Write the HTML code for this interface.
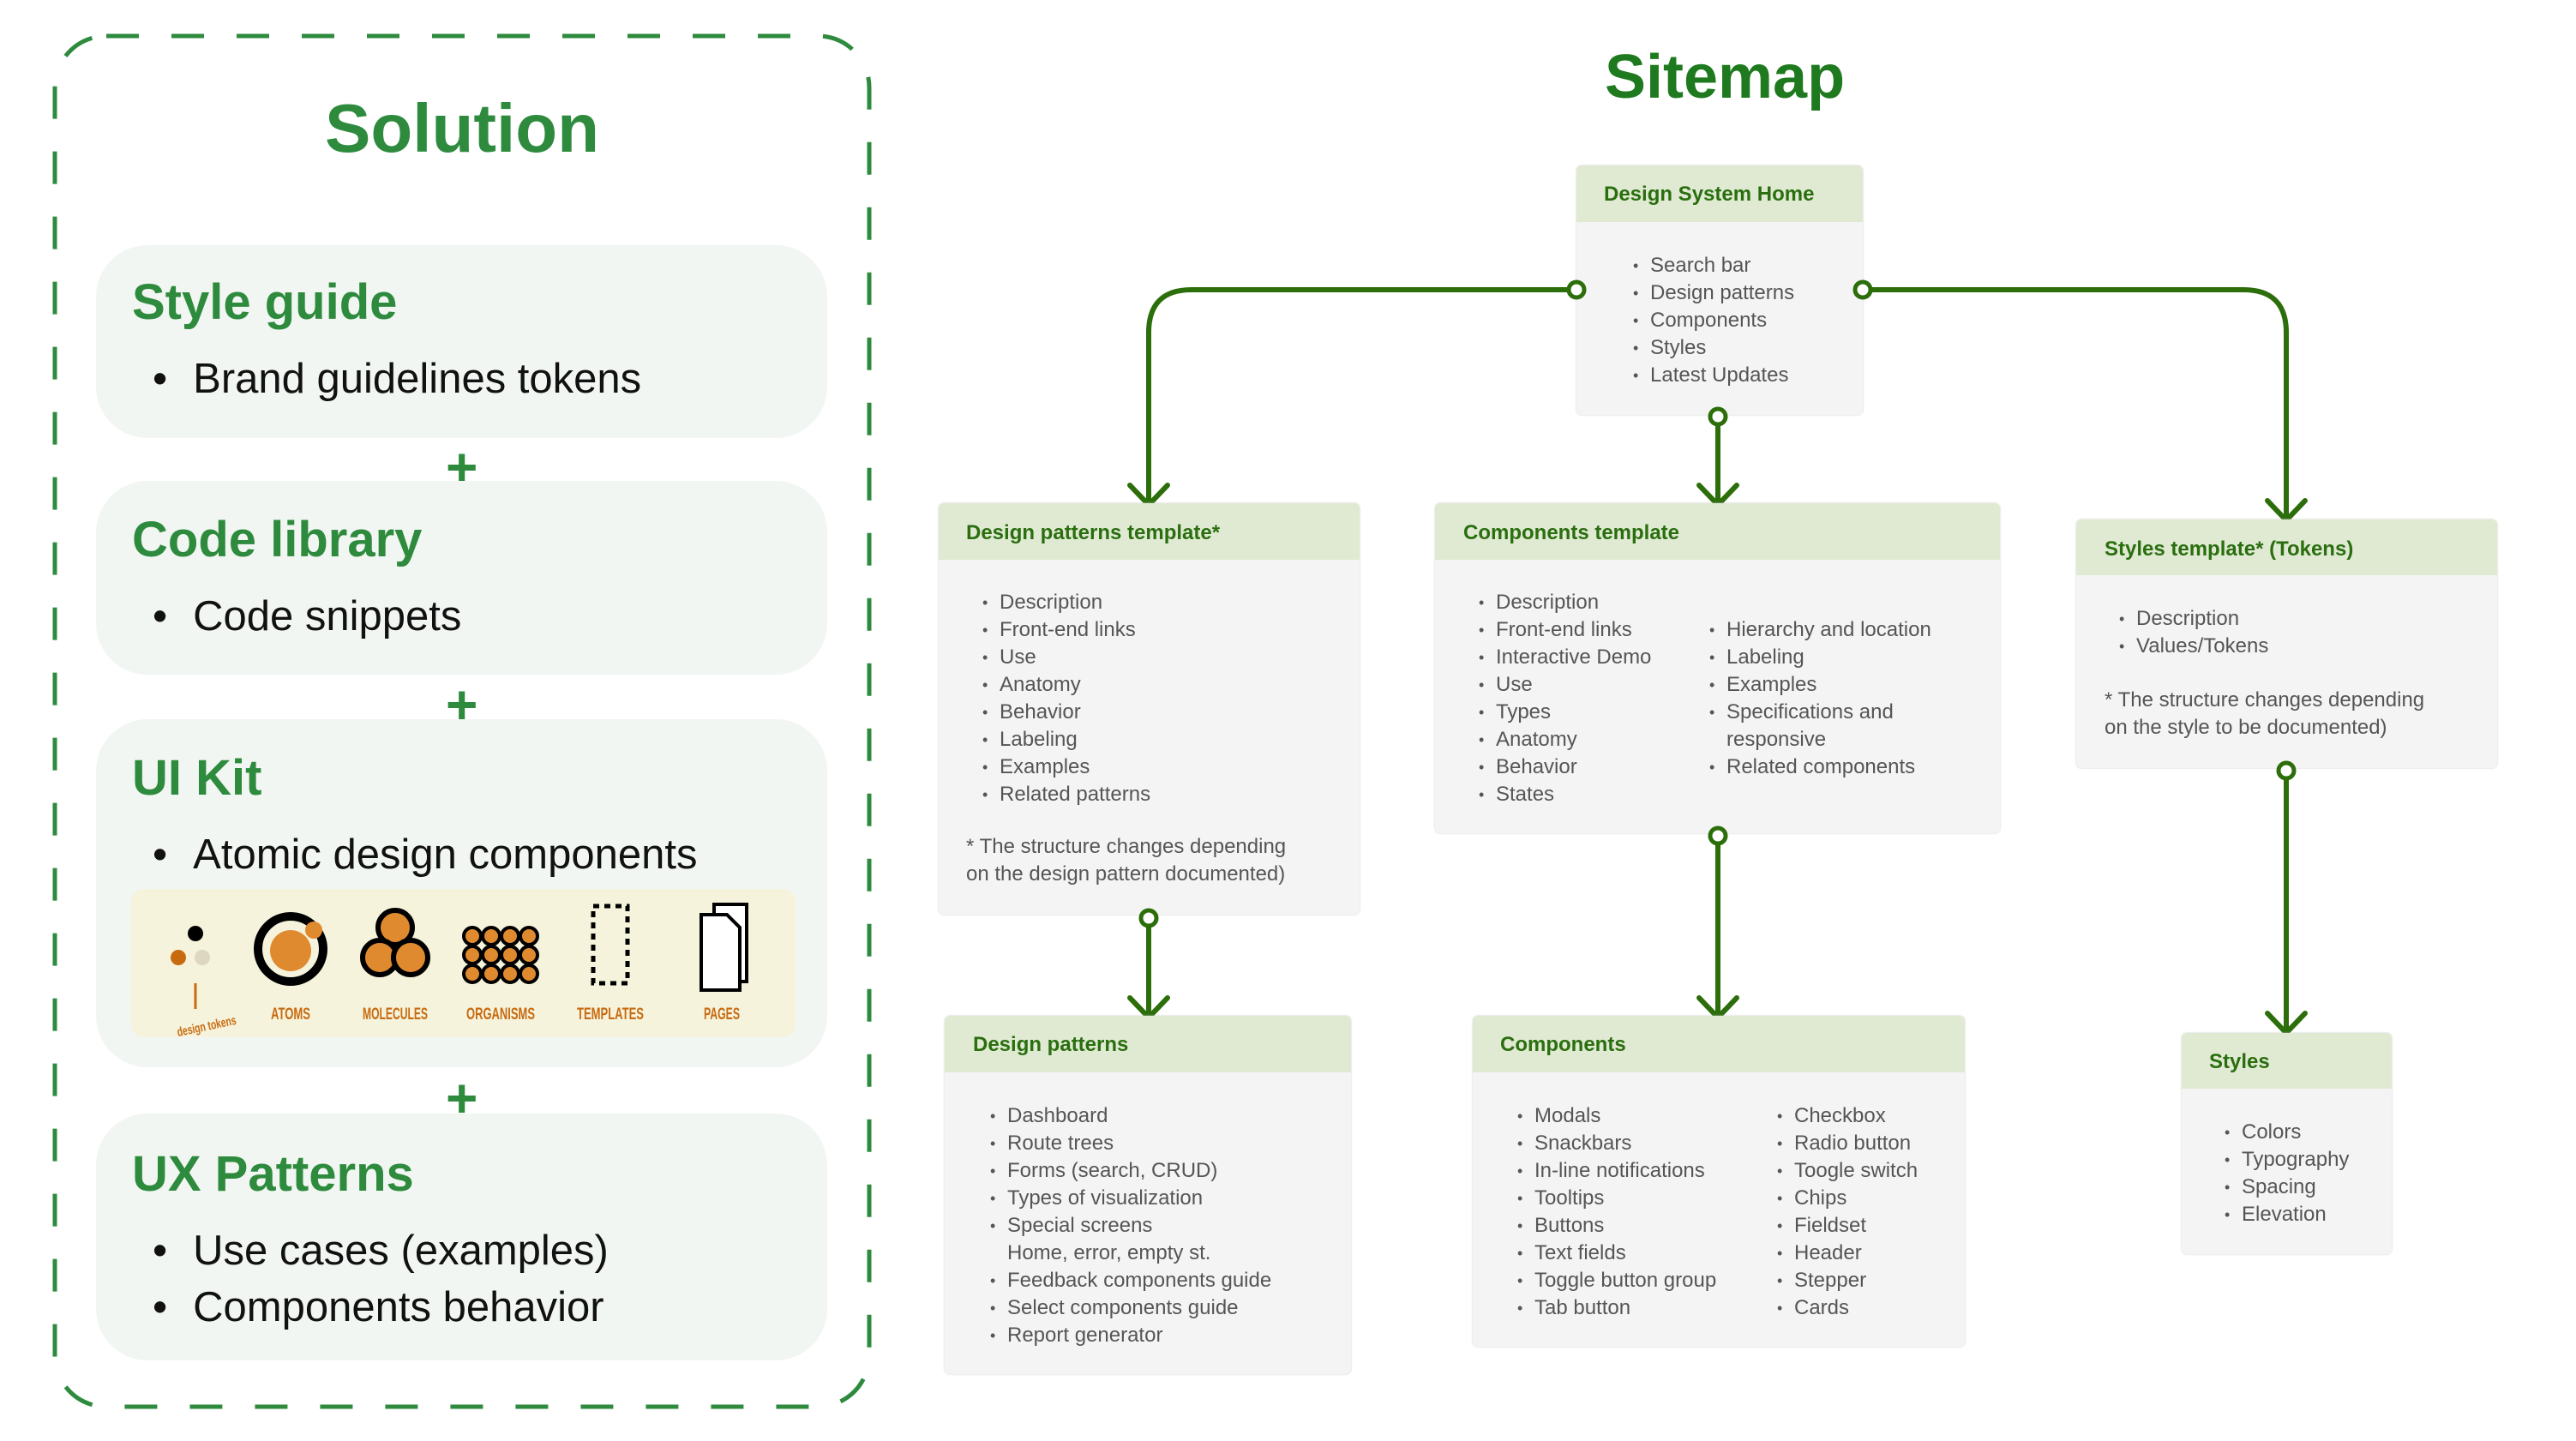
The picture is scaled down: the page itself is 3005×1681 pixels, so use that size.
<!DOCTYPE html>
<html><head><meta charset="utf-8"><style>
body{margin:0;width:3005px;height:1681px;background:#fff;position:relative;overflow:hidden;font-family:"Liberation Sans",sans-serif}
.a{position:absolute}
.card{position:absolute;left:112px;width:853px;background:#f2f6f2;border-radius:60px}
.ct{position:absolute;left:42px;color:#2e8b3e;font-weight:bold;font-size:58px;line-height:1}
.cb{position:absolute;left:66px;font-size:49px;color:#111;line-height:1}
.cb:before{content:"•";margin-right:30px}
.plus{position:absolute;left:520px;color:#2e8b3e;font-weight:bold;font-size:64px;line-height:1}
.box{position:absolute;background:#f4f4f4;border-radius:6px;box-shadow:0 0 2px #ccc}
.hd{position:absolute;left:0;right:0;top:0;background:#e0ead3;border-radius:6px 6px 0 0}
.ht{position:absolute;color:#2a6e0f;font-weight:bold;font-size:24px;line-height:1}
.li{position:absolute;color:#555;font-size:24px;line-height:32px;white-space:nowrap}
.li div:before{content:"•";position:absolute;margin-left:-20px;font-size:18px}
.li div{position:relative}
.nt{position:absolute;color:#555;font-size:24px;line-height:32px;white-space:nowrap}
</style></head><body>
<svg class="a" style="left:0;top:0" width="3005" height="1681">
<rect x="64" y="42" width="950" height="1599" rx="60" fill="none" stroke="#2e8b3e" stroke-width="5" stroke-dasharray="38,38"/>
<g fill="none" stroke="#2b6e0a" stroke-width="6" stroke-linecap="round">
<path d="M1839 338 H1390 Q1340 338 1340 388 V586"/>
<path d="M2173 338 H2617 Q2667 338 2667 388 V604"/>
<path d="M2004 486 V586"/>
<path d="M1340 1071 V1184"/>
<path d="M2004 975 V1184"/>
<path d="M2667 899 V1202"/>
<path d="M1318 566 L1340 589 L1362 566"/>
<path d="M1982 566 L2004 589 L2026 566"/>
<path d="M2645 584 L2667 607 L2689 584"/>
<path d="M1318 1164 L1340 1187 L1362 1164"/>
<path d="M1982 1164 L2004 1187 L2026 1164"/>
<path d="M2645 1182 L2667 1205 L2689 1182"/>
</g>
</svg>
<div class="a" style="left:0;width:1078px;top:110px;text-align:center;color:#2e8b3e;font-weight:bold;font-size:80px;line-height:1">Solution</div>
<div class="card" style="top:286px;height:225px"><div class="ct" style="top:38px">Style guide</div><div class="cb" style="top:132px">Brand guidelines tokens</div></div>
<div class="plus" style="top:513px">+</div>
<div class="card" style="top:561px;height:226px"><div class="ct" style="top:40px">Code library</div><div class="cb" style="top:134px">Code snippets</div></div>
<div class="plus" style="top:790px">+</div>
<div class="card" style="top:839px;height:406px"><div class="ct" style="top:40px">UI Kit</div><div class="cb" style="top:134px">Atomic design components</div></div>
<div class="plus" style="top:1249px">+</div>
<div class="card" style="top:1299px;height:288px"><div class="ct" style="top:42px">UX Patterns</div><div class="cb" style="top:136px">Use cases (examples)</div><div class="cb" style="top:202px">Components behavior</div></div>
<svg class="a" style="left:153px;top:1037px" width="784" height="173">
<rect width="775" height="173" rx="14" fill="#f5f3dc"/>
<circle cx="75" cy="52" r="9" fill="#000"/><circle cx="55" cy="80" r="9" fill="#c86a10"/><circle cx="83" cy="80" r="9" fill="#ddd6c0"/>
<path d="M75 110 V140" stroke="#c86a10" stroke-width="3"/>
<g fill="#c86a10" font-family="Liberation Sans,sans-serif" font-size="19" font-weight="bold" text-anchor="middle">
<text x="88" y="165" transform="rotate(-12 88 160)" font-size="15" textLength="70" lengthAdjust="spacingAndGlyphs">design tokens</text>
<text x="186" y="152" textLength="46" lengthAdjust="spacingAndGlyphs">ATOMS</text><text x="308" y="152" textLength="76" lengthAdjust="spacingAndGlyphs">MOLECULES</text><text x="431" y="152" textLength="80" lengthAdjust="spacingAndGlyphs">ORGANISMS</text><text x="559" y="152" textLength="78" lengthAdjust="spacingAndGlyphs">TEMPLATES</text><text x="689" y="152" textLength="42" lengthAdjust="spacingAndGlyphs">PAGES</text></g>
<circle cx="186" cy="70" r="38" fill="none" stroke="#000" stroke-width="10"/><circle cx="186" cy="72" r="24" fill="#e08a30"/><circle cx="213" cy="48" r="10" fill="#e08a30"/>
<g fill="#e08a30" stroke="#000" stroke-width="6"><circle cx="308" cy="45" r="20"/><circle cx="290" cy="80" r="20"/><circle cx="326" cy="80" r="20"/></g>
<g fill="#e08a30" stroke="#000" stroke-width="4">
<circle cx="398" cy="55" r="10"/><circle cx="420" cy="55" r="10"/><circle cx="442" cy="55" r="10"/><circle cx="464" cy="55" r="10"/>
<circle cx="398" cy="77" r="10"/><circle cx="420" cy="77" r="10"/><circle cx="442" cy="77" r="10"/><circle cx="464" cy="77" r="10"/>
<circle cx="398" cy="99" r="10"/><circle cx="420" cy="99" r="10"/><circle cx="442" cy="99" r="10"/><circle cx="464" cy="99" r="10"/></g>
<rect x="539" y="20" width="40" height="90" fill="none" stroke="#000" stroke-width="5" stroke-dasharray="7,6"/>
<rect x="680" y="18" width="38" height="90" fill="#fff" stroke="#000" stroke-width="4"/>
<path d="M665 30 H695 L710 45 V118 H665 Z" fill="#fff" stroke="#000" stroke-width="4"/>
</svg>
<div class="a" style="left:1680px;width:664px;top:54px;text-align:center;color:#1f7a1f;font-weight:bold;font-size:72px;line-height:1">Sitemap</div>

<div class="box" style="left:1839px;top:193px;width:334px;height:291px"><div class="hd" style="height:66px"></div><div class="ht" style="left:32px;top:22px">Design System Home</div>
<div class="li" style="left:86px;top:101px"><div>Search bar</div><div>Design patterns</div><div>Components</div><div>Styles</div><div>Latest Updates</div></div></div>

<div class="box" style="left:1095px;top:587px;width:491px;height:480px"><div class="hd" style="height:66px"></div><div class="ht" style="left:32px;top:23px">Design patterns template*</div>
<div class="li" style="left:71px;top:100px"><div>Description</div><div>Front-end links</div><div>Use</div><div>Anatomy</div><div>Behavior</div><div>Labeling</div><div>Examples</div><div>Related patterns</div></div>
<div class="nt" style="left:32px;top:385px">* The structure changes depending<br>on the design pattern documented)</div></div>

<div class="box" style="left:1674px;top:587px;width:659px;height:385px"><div class="hd" style="height:66px"></div><div class="ht" style="left:33px;top:23px">Components template</div>
<div class="li" style="left:71px;top:100px"><div>Description</div><div>Front-end links</div><div>Interactive Demo</div><div>Use</div><div>Types</div><div>Anatomy</div><div>Behavior</div><div>States</div></div>
<div class="li" style="left:340px;top:132px"><div>Hierarchy and location</div><div>Labeling</div><div>Examples</div><div>Specifications and<br>responsive</div><div>Related components</div></div></div>

<div class="box" style="left:2422px;top:606px;width:491px;height:290px"><div class="hd" style="height:65px"></div><div class="ht" style="left:33px;top:23px">Styles template* (Tokens)</div>
<div class="li" style="left:70px;top:100px"><div>Description</div><div>Values/Tokens</div></div>
<div class="nt" style="left:33px;top:195px">* The structure changes depending<br>on the style to be documented)</div></div>

<div class="box" style="left:1102px;top:1185px;width:474px;height:418px"><div class="hd" style="height:66px"></div><div class="ht" style="left:33px;top:22px">Design patterns</div>
<div class="li" style="left:73px;top:101px"><div>Dashboard</div><div>Route trees</div><div>Forms (search, CRUD)</div><div>Types of visualization</div><div>Special screens<br>Home, error, empty st.</div><div>Feedback components guide</div><div>Select components guide</div><div>Report generator</div></div></div>

<div class="box" style="left:1718px;top:1185px;width:574px;height:386px"><div class="hd" style="height:66px"></div><div class="ht" style="left:32px;top:22px">Components</div>
<div class="li" style="left:72px;top:101px"><div>Modals</div><div>Snackbars</div><div>In-line notifications</div><div>Tooltips</div><div>Buttons</div><div>Text fields</div><div>Toggle button group</div><div>Tab button</div></div>
<div class="li" style="left:375px;top:101px"><div>Checkbox</div><div>Radio button</div><div>Toogle switch</div><div>Chips</div><div>Fieldset</div><div>Header</div><div>Stepper</div><div>Cards</div></div></div>

<div class="box" style="left:2545px;top:1205px;width:245px;height:258px"><div class="hd" style="height:65px"></div><div class="ht" style="left:32px;top:22px">Styles</div>
<div class="li" style="left:70px;top:100px"><div>Colors</div><div>Typography</div><div>Spacing</div><div>Elevation</div></div></div>

<svg class="a" style="left:0;top:0" width="3005" height="1681"><g fill="#fff" stroke="#2b6e0a" stroke-width="5">
<circle cx="1839" cy="338" r="9"/><circle cx="2173" cy="338" r="9"/><circle cx="2004" cy="486" r="9"/>
<circle cx="1340" cy="1071" r="9"/><circle cx="2004" cy="975" r="9"/><circle cx="2667" cy="899" r="9"/></g></svg>
</body></html>
